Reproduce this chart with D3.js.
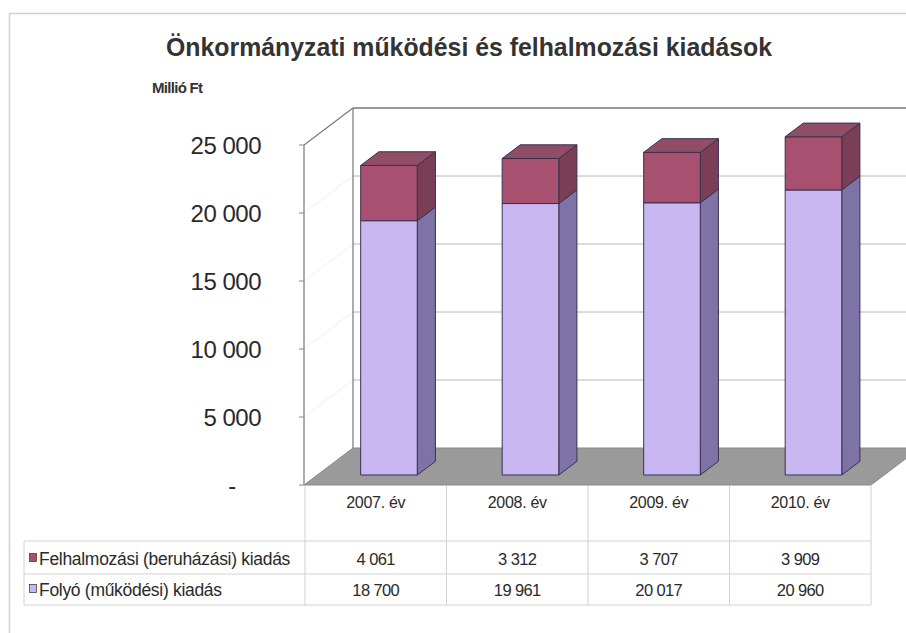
<!DOCTYPE html>
<html>
<head>
<meta charset="utf-8">
<script src="https://cdn.jsdelivr.net/npm/d3@7"></script>
<style>
  html, body { margin: 0; padding: 0; background: #fff; }
  svg { display: block; font-family: "Liberation Sans", Arial, sans-serif; }
</style>
</head>
<body>
<svg id="chart" width="906" height="633"></svg>
<script>
// Expenditure data, million HUF
const categories = ["2007. év", "2008. év", "2009. év", "2010. év"];
const seriesNames = ["Felhalmozási (beruházási) kiadás", "Folyó (működési) kiadás"];
const capitalSpending = [4061, 3312, 3707, 3909];
const currentSpending = [18700, 19961, 20017, 20960];
const tickValues = [0, 5000, 10000, 15000, 20000, 25000];
const tickLabels = ["-", "5 000", "10 000", "15 000", "20 000", "25 000"];

const svg = d3.select("#chart");

// Front plane of the 3D box
const x0 = 304, x1 = 871;          // plot extent on the front plane
const DX = 49, DY = -37;           // full depth offset of the box
const dFront = 0.27, dBack = 0.64; // bar depth span (fraction of the box depth)

const y = d3.scaleLinear().domain([0, 25000]).range([485, 145]);
const x = d3.scaleBand().domain(categories).range([x0 + 1, x1]).padding(0);

const P = (px, v, d) => [px + DX * d, y(v) + DY * d];
const poly = pts => pts.map(p => p.join(",")).join(" ");

// outer frame
svg.append("rect").attr("x", 9.5).attr("y", 13.5).attr("width", 920).attr("height", 640)
  .attr("fill", "none").attr("stroke", "#d0d0d0").attr("stroke-width", 1.5);

// title
svg.append("text").attr("x", 469).attr("y", 56).attr("text-anchor", "middle")
  .attr("font-size", 25).attr("font-weight", "bold").attr("fill", "#333")
  .attr("textLength", 606).attr("lengthAdjust", "spacingAndGlyphs")
  .text("Önkormányzati működési és felhalmozási kiadások");

svg.append("text").attr("x", 152).attr("y", 93)
  .attr("font-size", 15).attr("font-weight", "bold").attr("fill", "#333")
  .attr("letter-spacing", -0.7)
  .text("Millió Ft");

// back wall
const walls = svg.append("g");
const backRight = x1 + DX + 60;
walls.append("polygon")
  .attr("points", poly([P(x0, 0, 1), [backRight, y(0) + DY], [backRight, y(25000) + DY], P(x0, 25000, 1)]))
  .attr("fill", "#fff");
tickValues.forEach(t => {
  if (t === 0) return;
  const a = P(x0, t, 1);
  walls.append("line").attr("x1", a[0]).attr("y1", a[1]).attr("x2", backRight).attr("y2", a[1])
    .attr("stroke", t === 25000 ? "#777" : "#b8b8b8").attr("stroke-width", t === 25000 ? 1.3 : 1);
  // faint lines on the side wall
  const b = P(x0, t, 0);
  if (t !== 25000) {
    walls.append("line").attr("x1", b[0]).attr("y1", b[1]).attr("x2", a[0]).attr("y2", a[1])
      .attr("stroke", "#eeeeee").attr("stroke-width", 1);
  }
});
// back-left vertical edge
{
  const a = P(x0, 0, 1), b = P(x0, 25000, 1);
  walls.append("line").attr("x1", a[0]).attr("y1", a[1]).attr("x2", b[0]).attr("y2", b[1])
    .attr("stroke", "#777").attr("stroke-width", 1.2);
}
// side wall top edge and front axis
{
  const a = P(x0, 25000, 0), b = P(x0, 25000, 1), c = P(x0, 0, 0);
  walls.append("polyline").attr("points", poly([c, a, b]))
    .attr("fill", "none").attr("stroke", "#777").attr("stroke-width", 1.2);
}
// floor
svg.append("polygon")
  .attr("points", poly([P(x0, 0, 0), P(x1, 0, 0), P(x1, 0, 1), P(x0, 0, 1)]))
  .attr("fill", "#9a9a9a").attr("stroke", "#8a8a8a").attr("stroke-width", 1);

// y axis ticks and labels on the front plane
const axis = svg.append("g");
tickValues.forEach((t, i) => {
  axis.append("line").attr("x1", x0 - 5).attr("x2", x0).attr("y1", y(t)).attr("y2", y(t))
    .attr("stroke", "#888");
  axis.append("text").attr("x", t === 0 ? 232 : 261).attr("y", y(t) + 9)
    .attr("text-anchor", t === 0 ? "middle" : "end")
    .attr("font-size", 24).attr("fill", "#2a2a2a").attr("letter-spacing", -0.5)
    .text(tickLabels[i]);
});

// stacked 3D bars
const colors = {
  current: { front: "#c9b7f1", side: "#7e73a6", top: "#a99bd6" },
  capital: { front: "#a7506f", side: "#7b3e57", top: "#8f4d66" }
};
const bars = svg.append("g").attr("stroke", "#3b3050").attr("stroke-width", 1).attr("stroke-linejoin", "round");
categories.forEach((c, i) => {
  const bw = x.bandwidth() * 0.4;
  const xl = x(c) + (x.bandwidth() - bw) / 2;
  const xr = xl + bw;
  const segs = [
    { v0: 0, v1: currentSpending[i], col: colors.current, top: false },
    { v0: currentSpending[i], v1: currentSpending[i] + capitalSpending[i], col: colors.capital, top: true }
  ];
  segs.forEach(s => {
    bars.append("polygon")
      .attr("points", poly([P(xr, s.v0, dFront), P(xr, s.v0, dBack), P(xr, s.v1, dBack), P(xr, s.v1, dFront)]))
      .attr("fill", s.col.side);
    bars.append("polygon")
      .attr("points", poly([P(xl, s.v0, dFront), P(xr, s.v0, dFront), P(xr, s.v1, dFront), P(xl, s.v1, dFront)]))
      .attr("fill", s.col.front);
    if (s.top) {
      bars.append("polygon")
        .attr("points", poly([P(xl, s.v1, dFront), P(xr, s.v1, dFront), P(xr, s.v1, dBack), P(xl, s.v1, dBack)]))
        .attr("fill", s.col.top);
    }
  });
});

// data table below the chart
const table = svg.append("g");
const tLeft = 24, rowLines = [541, 574, 605];
const gridColor = "#d2d2d2";
x.domain().forEach(c => {
  table.append("line").attr("x1", x(c)).attr("x2", x(c)).attr("y1", 486).attr("y2", 605)
    .attr("stroke", gridColor);
});
table.append("line").attr("x1", x1).attr("x2", x1).attr("y1", 486).attr("y2", 605).attr("stroke", gridColor);
table.append("line").attr("x1", tLeft).attr("x2", tLeft).attr("y1", rowLines[0]).attr("y2", rowLines[2]).attr("stroke", gridColor);
rowLines.forEach(r => {
  table.append("line").attr("x1", tLeft).attr("x2", x1).attr("y1", r).attr("y2", r).attr("stroke", gridColor);
});
categories.forEach(c => {
  table.append("text").attr("x", x(c) + x.bandwidth() / 2).attr("y", 508)
    .attr("text-anchor", "middle").attr("font-size", 16).attr("fill", "#2a2a2a")
    .attr("letter-spacing", -0.3).text(c);
});
const fmt = v => d3.format(",")(v).replace(",", " ");
const rows = [
  { name: seriesNames[0], values: capitalSpending, col: colors.capital.front, y: 565 },
  { name: seriesNames[1], values: currentSpending, col: colors.current.front, y: 596 }
];
rows.forEach(r => {
  table.append("rect").attr("x", 29.5).attr("y", r.y - 11.5).attr("width", 7).attr("height", 8)
    .attr("fill", r.col).attr("stroke", "#444").attr("stroke-width", 0.8);
  table.append("text").attr("x", 39).attr("y", r.y).attr("font-size", 17.5).attr("fill", "#2a2a2a")
    .attr("letter-spacing", -0.3).text(r.name);
  r.values.forEach((v, i) => {
    table.append("text").attr("x", x(categories[i]) + x.bandwidth() / 2).attr("y", r.y)
      .attr("text-anchor", "middle").attr("font-size", 16.5).attr("fill", "#2a2a2a")
      .attr("letter-spacing", -0.6).text(fmt(v));
  });
});
</script>
</body>
</html>
